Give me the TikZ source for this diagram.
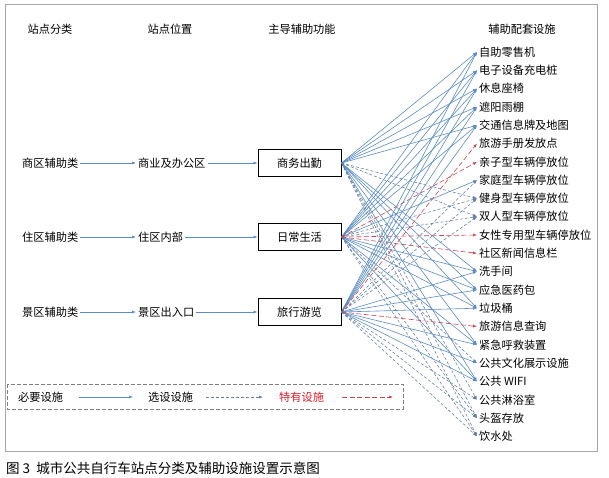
\documentclass[tikz,border=0pt]{standalone}
\usepackage{fontspec}
\setmainfont{Noto Sans CJK SC}
\usetikzlibrary{arrows.meta}
\definecolor{lineblue}{RGB}{92,140,195}
\definecolor{dashgray}{RGB}{100,125,160}
\definecolor{linered}{RGB}{200,70,80}
\definecolor{textred}{RGB}{220,30,45}
\begin{document}
\begin{tikzpicture}[x=1pt,y=-1pt,>={Latex[length=4pt,width=3pt]},
	font=\fontsize{11.2}{13}\selectfont,
	need/.style={->,lineblue,line width=.6pt},
	opt/.style={->,dashgray,line width=.55pt,dash pattern=on 3pt off 2pt},
	spec/.style={->,linered,line width=.6pt,dash pattern=on 5pt off 2.5pt},
	txt/.style={anchor=west,inner sep=2pt},
	func/.style={draw,line width=.9pt,minimum width=83pt,minimum height=27pt,inner sep=0pt}]
	\useasboundingbox (0,0) rectangle (609,478);
	\draw[gray!70,line width=.8pt] (5,4) rectangle (597,451);
	% column heads
	\foreach \x/\t [count=\i] in {50/站点分类,170/站点位置,302/主导辅助功能,522/辅助配套设施}
	\node (h\i) at (\x,29) {\t};
	% station classes, locations and main functions
	\foreach \y/\c/\p/\b [count=\i] in {163/商区辅助类/商业及办公区/商务出勤,
		237/住区辅助类/住区内部/日常生活,
		312/景区辅助类/景区出入口/旅行游览}
	{
		\node[txt] (c\i) at (20,\y) {\c};
		\node[txt] (p\i) at (136,\y) {\p};
		\node[func] (b\i) at (299.5,\y) {\b};
		\draw[need] (c\i) -- (p\i);
		\draw[need] (p\i) -- (b\i);
	}
	% facilities
	\foreach \t [count=\i] in {自助零售机,电子设备充电桩,休息座椅,遮阳雨棚,交通信息牌及地图,
		旅游手册发放点,亲子型车辆停放位,家庭型车辆停放位,健身型车辆停放位,双人型车辆停放位,
		女性专用型车辆停放位,社区新闻信息栏,洗手间,应急医药包,垃圾桶,旅游信息查询,
		紧急呼救装置,公共文化展示设施,公共 WIFI,公共淋浴室,头盔存放,饮水处}
	\node[txt] (f\i) at (477,{52+(\i-1)*18.3}) {\t};
	% links
	\foreach \f in {1,2,3,4,5,13,14,15,17,19}
	\draw[need] (b1.east) -- (f\f.west);
	\foreach \f in {9,10,20,21,22}
	\draw[opt] (b1.east) -- (f\f.west);
	\foreach \f in {1,2,3,4,5,8,13,14,15,17,19}
	\draw[need] (b2.east) -- (f\f.west);
	\foreach \f in {9,10,18,21,22}
	\draw[opt] (b2.east) -- (f\f.west);
	\foreach \f in {7,11,12}
	\draw[spec] (b2.east) -- (f\f.west);
	\foreach \f in {1,2,3,4,5,13,14,15,17,18,19}
	\draw[need] (b3.east) -- (f\f.west);
	\foreach \f in {8,9,10,20,21,22}
	\draw[opt] (b3.east) -- (f\f.west);
	\foreach \f in {6,16}
	\draw[spec] (b3.east) -- (f\f.west);
	% legend
	\draw[gray,line width=.7pt,dash pattern=on 4pt off 2pt] (7,384) rectangle (403,409);
	\path
	(79,397) coordinate (n1) (133,397) coordinate (n2)
	(206,397) coordinate (o1) (263,397) coordinate (o2)
	(342,397) coordinate (s1) (393,397) coordinate (s2);
	\node[txt] (l1) at (16,397) {必要设施};
	\node[txt] (l2) at (146,397) {选设设施};
	\node[txt,textred] (l3) at (277,397) {特有设施};
	\draw[need] (n1) -- (n2);
	\draw[opt] (o1) -- (o2);
	\draw[spec] (s1) -- (s2);
	% caption
	\node[txt,font=\fontsize{13.5}{15}\selectfont] (cap) at (4,468) {图 3\ \ 城市公共自行车站点分类及辅助设施设置示意图};
\end{tikzpicture}
\end{document}
